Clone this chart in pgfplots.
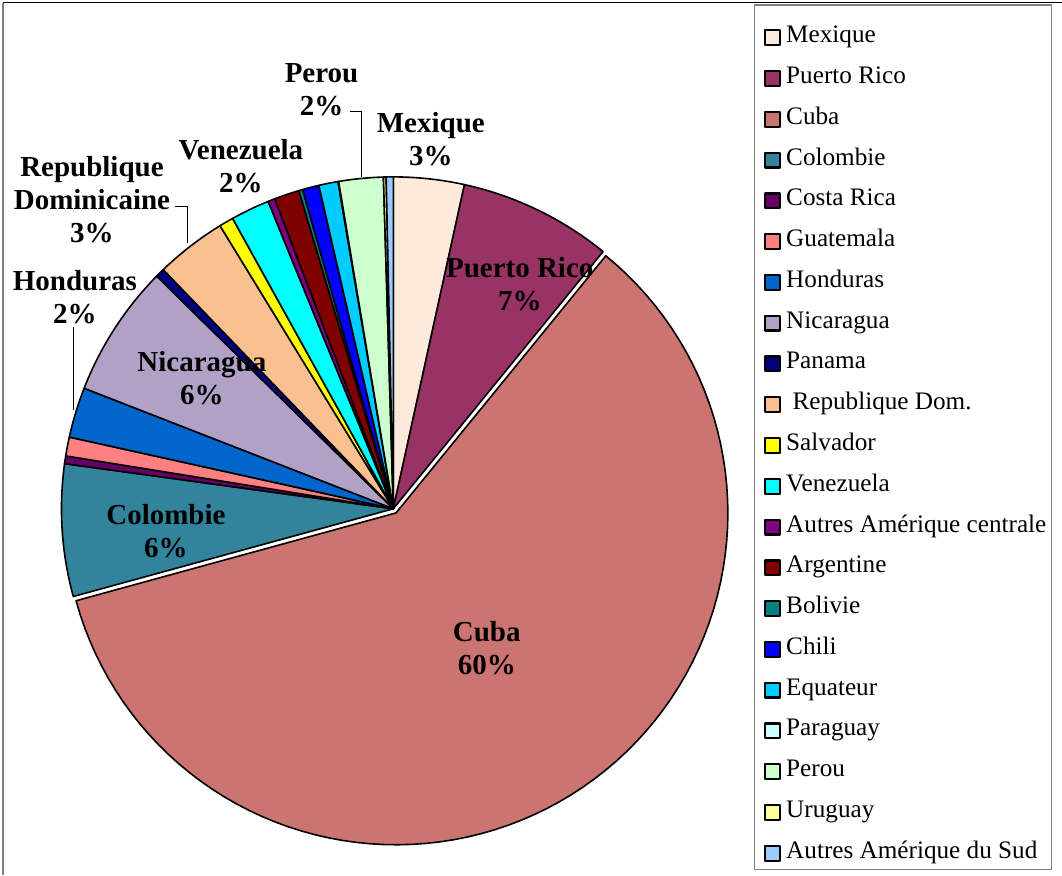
\documentclass[border=0pt]{standalone}
\usepackage{pgfplots}
\pgfplotsset{compat=1.18}
\usepackage{pgfplotstable}
\usepackage{fontspec}
\setmainfont{Liberation Serif}

\definecolor{c0}{RGB}{253,234,218}
\definecolor{c1}{RGB}{153,51,102}
\definecolor{c2}{RGB}{204,116,114}
\definecolor{c3}{RGB}{49,132,155}
\definecolor{c4}{RGB}{102,0,102}
\definecolor{c5}{RGB}{255,128,128}
\definecolor{c6}{RGB}{0,102,204}
\definecolor{c7}{RGB}{178,161,199}
\definecolor{c8}{RGB}{0,0,128}
\definecolor{c9}{RGB}{250,192,144}
\definecolor{c10}{RGB}{255,255,0}
\definecolor{c11}{RGB}{0,255,255}
\definecolor{c12}{RGB}{128,0,128}
\definecolor{c13}{RGB}{128,0,0}
\definecolor{c14}{RGB}{0,128,128}
\definecolor{c15}{RGB}{0,0,255}
\definecolor{c16}{RGB}{0,204,255}
\definecolor{c17}{RGB}{204,255,255}
\definecolor{c18}{RGB}{204,255,204}
\definecolor{c19}{RGB}{255,255,153}
\definecolor{c20}{RGB}{153,204,255}

% share of each country, percent, clockwise from 12 o'clock
\pgfplotstableread[col sep=comma]{
name,pct
Mexique,3.44
Puerto Rico,7.45
Cuba,59.85
Colombie,6.43
Costa Rica,0.375
Guatemala,0.92
Honduras,2.45
Nicaragua,6.45
Panama,0.44
Republique Dom.,3.45
Salvador,0.70
Venezuela,1.89
Autres Amerique centrale,0.34
Argentine,1.22
Bolivie,0.19
Chili,0.80
Equateur,0.94
Paraguay,0.03
Perou,2.16
Uruguay,0.13
Autres Amerique du Sud,0.35
}\pietable

\def\cx{393.5}
\def\cy{366}
\def\rr{332}

\begin{document}
\begin{tikzpicture}
\begin{axis}[
  x=0.5pt, y=0.5pt,
  xmin=0, xmax=1062, ymin=0, ymax=875,
  hide axis, clip=false,
  legend cell align=left,
  legend image code/.code={\draw[#1, line width=1.1pt, draw=black] (0pt,-3.7pt) rectangle (7.4pt,3.7pt);},
  legend style={draw=none, fill=none, inner sep=0pt, row sep=9.4pt,
    font=\fontsize{12.6}{14}\selectfont,
    nodes={inner sep=0pt, text height=8pt, text depth=3pt},
    /tikz/every odd column/.append style={column sep=2.6pt},
    at={(0.7194,0.9699)}, anchor=north west},
]
\path (axis cs:0,0) rectangle (axis cs:1062,875);
\def\cum{0}
\pgfplotsforeachungrouped \i in {0,...,20}{%
  \pgfplotstablegetelem{\i}{pct}\of\pietable
  \let\v\pgfplotsretval
  \pgfmathsetmacro{\a}{\cum*3.6}%
  \pgfmathsetmacro{\b}{(\cum+\v)*3.6}%
  \pgfmathsetmacro{\cum}{\cum+\v}%
  \ifnum\i=2
    \pgfmathsetmacro{\px}{\cx+5*sin((\a+\b)/2)}%
    \pgfmathsetmacro{\py}{\cy+5*cos((\a+\b)/2)}%
  \else
    \let\px\cx \let\py\cy
  \fi
  \edef\cmd{\noexpand\addplot[draw=black, line width=0.8pt, line join=round, fill=c\i,
      domain=\a:\b, samples=90, variable=\noexpand\t]
    ({\px+\rr*sin(\noexpand\t)},{\py+\rr*cos(\noexpand\t)}) -- (axis cs:\px,\py) -- cycle;}%
  \cmd
}
\legend{Mexique, Puerto Rico, Cuba, Colombie, Costa Rica, Guatemala, Honduras,
  Nicaragua, Panama, {\ Republique Dom.}, Salvador, Venezuela,
  Autres Amérique centrale, Argentine, Bolivie, Chili, Equateur, Paraguay,
  Perou, Uruguay, Autres Amérique du Sud}

% frame and legend box
\draw[black, line width=0.5pt] (axis cs:3,872) -- (axis cs:1062,872);
\draw[gray, line width=0.6pt] (axis cs:3,872) -- (axis cs:3,0);
\draw[gray, line width=0.6pt] (axis cs:755,870) rectangle (axis cs:1052,5);

% leader lines
\draw[black, line width=0.5pt] (axis cs:350,763.3) -- (axis cs:361.7,763.3) -- (axis cs:361.7,698);
\draw[black, line width=0.5pt] (axis cs:175,668.3) -- (axis cs:187.3,668.3) -- (axis cs:187.3,631.7);
\draw[black, line width=0.5pt] (axis cs:74,548) -- (axis cs:74,465);

% data labels
\tikzset{lab/.style={align=center, inner sep=0pt, font=\bfseries\fontsize{14.5}{16.5}\selectfont}}
\node[lab] at (axis cs:431,736) {Mexique\\3\%};
\node[lab] at (axis cs:321.7,785) {Perou\\2\%};
\node[lab] at (axis cs:241,709) {Venezuela\\2\%};
\node[lab] at (axis cs:92,675) {Republique\\Dominicaine\\3\%};
\node[lab] at (axis cs:75,577.5) {Honduras\\2\%};
\node[lab] at (axis cs:520,591) {Puerto Rico\\7\%};
\node[lab] at (axis cs:487,227) {Cuba\\60\%};
\node[lab] at (axis cs:166,344) {Colombie\\6\%};
\node[lab] at (axis cs:202,497) {Nicaragua\\6\%};
\end{axis}
\end{tikzpicture}
\end{document}
